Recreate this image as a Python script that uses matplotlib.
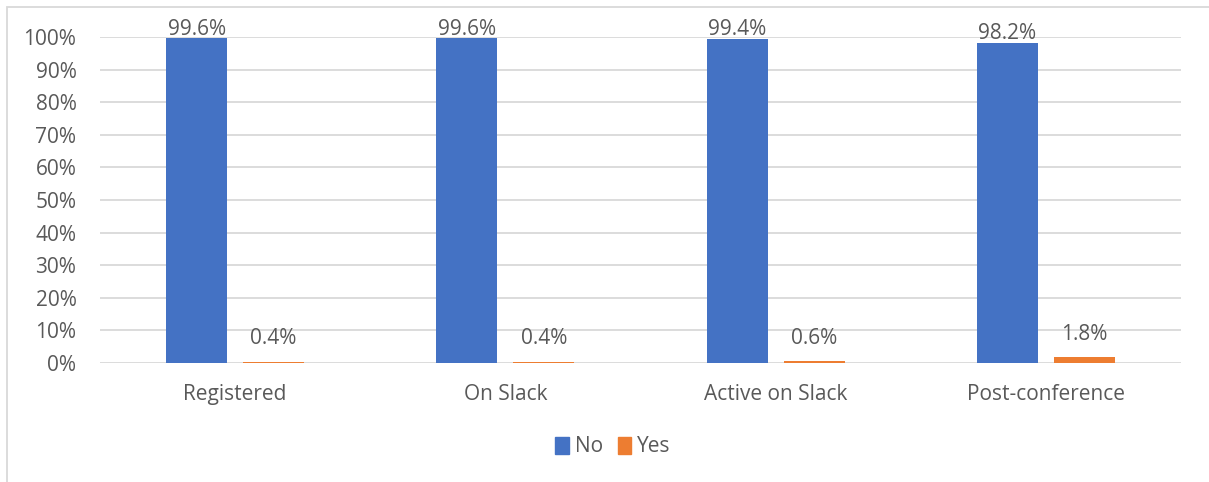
import matplotlib
import matplotlib.pyplot as plt
import numpy as np
from matplotlib.patches import Rectangle, Patch

matplotlib.use("Agg")

categories = ["Registered", "On Slack", "Active on Slack", "Post-conference"]
no_values = [99.6, 99.6, 99.4, 98.2]
yes_values = [0.4, 0.4, 0.6, 1.8]

blue = "#4472C4"
orange = "#ED7D31"
text_color = "#595959"
grid_color = "#D9D9D9"
fs = 15

plt.rcParams["font.family"] = ["Open Sans", "DejaVu Sans"]

fig = plt.figure(figsize=(12.09, 4.82), dpi=100)
ax = fig.add_axes([100 / 1209, 1 - 363 / 482, 1081 / 1209, 326 / 482])

x = np.arange(len(categories))
width = 0.226
offset = 0.1426

bars_no = ax.bar(x - offset, no_values, width, color=blue, label="No", zorder=3)
bars_yes = ax.bar(x + offset, yes_values, width, color=orange, label="Yes", zorder=3)

# Etichette dei valori sopra le barre
for bars, dy in ((bars_no, -1), (bars_yes, 9)):
    for b in bars:
        ax.annotate(
            f"{b.get_height():.1f}%",
            (b.get_x() + b.get_width() / 2, b.get_height()),
            xytext=(0, dy),
            textcoords="offset points",
            ha="center",
            va="bottom",
            fontsize=fs,
            color=text_color,
        )

ax.set_xlim(-0.5, len(categories) - 0.5)
ax.set_ylim(0, 100)
ax.set_yticks(np.arange(0, 101, 10))
ax.set_yticklabels([f"{v}%" for v in range(0, 101, 10)])
ax.set_xticks(x)
ax.set_xticklabels(categories)
ax.tick_params(axis="both", length=0, labelsize=fs, labelcolor=text_color)
ax.tick_params(axis="x", pad=15)
ax.tick_params(axis="y", pad=17)
ax.grid(axis="y", color=grid_color, linewidth=1.3, zorder=0)
for s in ax.spines.values():
    s.set_visible(False)

leg = fig.legend(
    handles=[Patch(color=blue, label="No"), Patch(color=orange, label="Yes")],
    loc="center",
    bbox_to_anchor=(613 / 1209, 1 - 447 / 482),
    ncol=2,
    frameon=False,
    fontsize=fs,
    handlelength=0.65,
    handleheight=0.85,
    handletextpad=0.3,
    columnspacing=0.7,
)
for t in leg.get_texts():
    t.set_color(text_color)

# Bordo del grafico (solo in alto e a sinistra visibili)
fig.patches.append(
    Rectangle(
        (7 / 1209, -0.05),
        1.1,
        1 - 7 / 482 + 0.05,
        transform=fig.transFigure,
        fill=False,
        edgecolor=grid_color,
        linewidth=1.3,
    )
)

fig.savefig("out.png", dpi=100)
plt.close()
